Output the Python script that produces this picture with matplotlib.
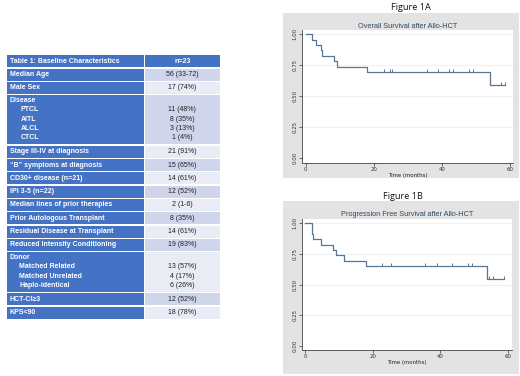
import numpy as np
import matplotlib
matplotlib.use("Agg")
import matplotlib.pyplot as plt
from matplotlib.patches import Rectangle

# table 1 content
row_labels = [
    ["Median Age"],
    ["Male Sex"],
    ["Disease", "PTCL", "AITL", "ALCL", "CTCL"],
    ["Stage III-IV at diagnosis"],
    ["\u201cB\u201d symptoms at diagnosis"],
    ["CD30+ disease (n=21)"],
    ["IPI 3-5 (n=22)"],
    ["Median lines of prior therapies"],
    ["Prior Autologous Transplant"],
    ["Residual Disease at Transplant"],
    ["Reduced Intensity Conditioning"],
    ["Donor", "Matched Related", "Matched Unrelated", "Haplo-identical"],
    ["HCT-CI\u22653"],
    ["KPS<90"],
]
row_values = [
    ["56 (33-72)"],
    ["17 (74%)"],
    ["", "11 (48%)", "8 (35%)", "3 (13%)", "1 (4%)"],
    ["21 (91%)"],
    ["15 (65%)"],
    ["14 (61%)"],
    ["12 (52%)"],
    ["2 (1-6)"],
    ["8 (35%)"],
    ["14 (61%)"],
    ["19 (83%)"],
    ["", "13 (57%)", "4 (17%)", "6 (26%)"],
    ["12 (52%)"],
    ["18 (78%)"],
]

# overall survival (months, survival)
os_t = [0, 1.8, 2.9, 4.5, 4.9, 8.3, 9.3, 18.0, 54.1, 58.6]
os_s = [1.000, 0.957, 0.913, 0.870, 0.826, 0.783, 0.739, 0.696, 0.590, 0.590]
os_cens = [23.0, 24.6, 25.2, 35.5, 38.8, 42.2, 43.1, 48.0, 49.2, 57.3, 58.6]

# progression free survival
pfs_t = [0, 2.0, 2.3, 4.7, 8.4, 9.3, 11.6, 17.9, 53.9, 58.8]
pfs_s = [1.000, 0.913, 0.870, 0.826, 0.783, 0.739, 0.696, 0.652, 0.548, 0.548]
pfs_cens = [22.9, 25.4, 35.5, 38.9, 43.4, 48.1, 49.3, 54.5, 55.7, 58.8]

blue = "#4472C4"
shade = ["#CFD5EA", "#E9EBF5"]
tfont = ["Liberation Sans Narrow", "Liberation Sans", "DejaVu Sans"]
fs = 5.0

fig = plt.figure(figsize=(5.2, 3.76), dpi=100)
base = fig.add_axes([0, 0, 1, 1])
base.set_xlim(0, 520)
base.set_ylim(376, 0)
base.axis("off")

# --- table ---
x0, xm, x1 = 6.7, 144.8, 220
gap = 1.4
y = 55
base.add_patch(Rectangle((x0, y), xm - x0 - 0.5, 12.3, color=blue, lw=0))
base.add_patch(Rectangle((xm + 0.5, y), x1 - xm - 0.5, 12.3, color=blue, lw=0))
base.text(10, y + 6.2, "Table 1: Baseline Characteristics", color="white",
          fontsize=fs, fontweight="bold", family=tfont, va="center")
base.text((xm + x1) / 2, y + 6.2, "n=23", color="white",
          fontsize=fs, fontweight="bold", family=tfont, va="center", ha="center")
y += 12.3 + gap
for i, (lab, val) in enumerate(zip(row_labels, row_values)):
    n = len(lab)
    h = 2.6 + 9.3 * n
    base.add_patch(Rectangle((x0, y), xm - x0 - 0.5, h, color=blue, lw=0))
    base.add_patch(Rectangle((xm + 0.5, y), x1 - xm - 0.5, h, color=shade[i % 2], lw=0))
    for j in range(n):
        ty = y + h / 2 if n == 1 else y + 5.2 + 9.3 * j
        tx = 10 if j == 0 else (20.5 if lab[0] == "Disease" else 19.3)
        base.text(tx, ty, lab[j], color="white", fontsize=fs, fontweight="bold",
                  family=tfont, va="center")
        base.text((xm + x1) / 2, ty, val[j], color="#222222", fontsize=fs,
                  family=tfont, va="center", ha="center")
    y += h + gap

# --- survival panels ---
panels = [
    ("Figure 1A", 410.8, 7.5, (283.3, 13.3, 235.7, 164.7),
     [0.5802, 1 - 162.5 / 376, 0.4067, 132.5 / 376], (-1.18, 60.9),
     "Overall Survival after Allo-HCT", os_t, os_s, os_cens),
    ("Figure 1B", 403.3, 196.5, (283.3, 200.5, 235.7, 173.5),
     [0.5802, 1 - 350 / 376, 0.4038, 131 / 376], (-0.98, 61.1),
     "Progression Free Survival after Allo-HCT", pfs_t, pfs_s, pfs_cens),
]
curve = "#587690"
for name, fx, fy, grey, pos, xl, title, t, s, cens in panels:
    base.text(fx, fy, name, fontsize=6.6, family=["Open Sans", "DejaVu Sans"],
              ha="center", va="center", color="#111111")
    base.add_patch(Rectangle(grey[:2], grey[2], grey[3], color="#E3E3E3", lw=0))
    ax = fig.add_axes(pos)
    ax.set_xlim(*xl)
    ax.set_ylim(-0.034, 1.035)
    for yy in [0.25, 0.5, 0.75, 1.0]:
        ax.axhline(yy, color="#EEF1F2", lw=0.8, zorder=0)
    ax.step(t, s, where="post", color=curve, lw=0.9)
    idx = np.searchsorted(t, cens, side="right") - 1
    cs = np.array(s)[idx]
    ax.vlines(cens, cs, cs + 0.022, color=curve, lw=0.7)
    ax.set_xticks([0, 20, 40, 60])
    ax.set_yticks([0, 0.25, 0.5, 0.75, 1.0])
    ax.set_yticklabels(["0.00", "0.25", "0.50", "0.75", "1.00"], rotation=90, va="center")
    ax.tick_params(labelsize=3.9, length=2, width=0.5, pad=1.2, colors="#333333")
    for sp in ["top", "right"]:
        ax.spines[sp].set_visible(False)
    for sp in ["left", "bottom"]:
        ax.spines[sp].set_color("#444444")
        ax.spines[sp].set_linewidth(0.6)
    ax.set_xlabel("Time (months)", fontsize=3.9, labelpad=0.6, color="#222222")
    ax.set_title(title, fontsize=5.3, pad=1.8, color="#2E4A66",
                 family=["Liberation Sans", "DejaVu Sans"])

fig.savefig("out.png", dpi=100)
